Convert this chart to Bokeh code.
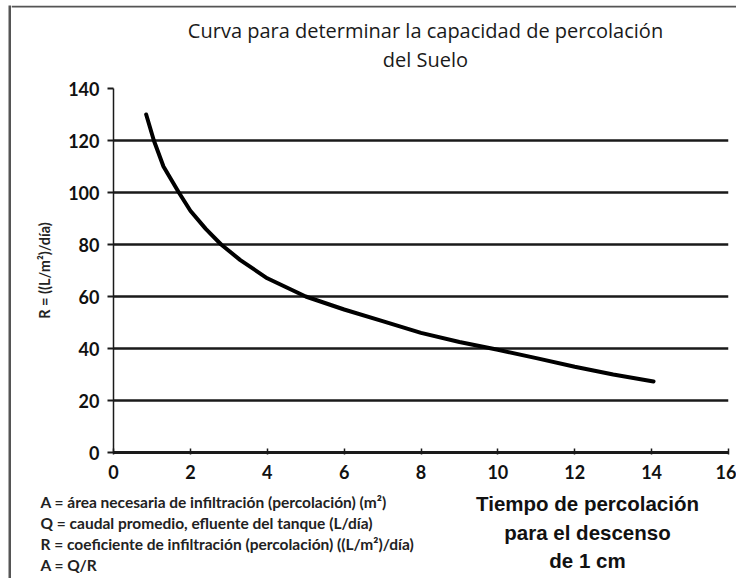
from bokeh.plotting import figure
from bokeh.models import Range1d, FixedTicker
from bokeh.layouts import column, row
from bokeh.core.properties import value
from bokeh.embed import file_html
from bokeh.resources import INLINE

# Data
tiempo = [0.85, 1.05, 1.3, 1.7, 2.0, 2.4, 2.8, 3.3, 4.0, 5.0, 6.0, 7.0, 8.0, 9.0, 10.0, 11.0, 12.0, 13.0, 14.05]
r_val = [130, 120, 110, 100, 93, 86, 80, 74, 67, 60, 55, 50.5, 46, 42.5, 39.5, 36.3, 33, 30, 27.3]
y_ticks = [0, 20, 40, 60, 80, 100, 120, 140]
grid_ticks = [20, 40, 60, 80, 100, 120]
x_ticks = [0, 2, 4, 6, 8, 10, 12, 14, 16]

title_lines = ["Curva para determinar la capacidad de percolación", "del Suelo"]
xlabel_lines = ["Tiempo de percolación", "para el descenso", "de 1 cm"]
ylabel = "R = ((L/m²)/día)"
notes = [
    "A = área necesaria de infiltración (percolación) (m²)",
    "Q = caudal promedio, efluente del tanque (L/día)",
    "R = coeficiente de infiltración (percolación) ((L/m²)/día)",
    "A = Q/R",
]

W = 725
OX, OY = 11, 5  # page offset of content
HT, HM, HB = 70, 417, 86


def blank_fig(w, h, fill="white"):
    f = figure(width=w, height=h, output_backend="svg", toolbar_location=None,
               x_range=Range1d(0, w), y_range=Range1d(h, 0),
               x_axis_type=None, y_axis_type=None, min_border=0,
               frame_align=False)
    f.outline_line_color = None
    f.grid.visible = False
    f.background_fill_color = fill
    f.border_fill_color = fill
    return f


# ---- left border strip of the picture frame
left_strip = blank_fig(3, HT + HM + HB, "#555555")

# ---- title figure (page y 5..75), with the top border line
top = blank_fig(W, HT)
top.quad(left=[0], right=[W], top=[0], bottom=[2], fill_color="#555555", line_color=None)
top.text(x=[425 - OX] * 2, y=[30 - OY, 59 - OY], text=title_lines,
         text_align="center", text_baseline="middle", text_font=value("Open Sans"),
         text_font_size="20px", text_color="#1a1a1a")

# ---- main figure (page y 75..492)
FL, FR, FT, FB = 113, 728, 88, 452
p = figure(width=W, height=HM, output_backend="svg", toolbar_location=None,
           x_range=Range1d(0, 16), y_range=Range1d(0, 140),
           min_border_left=FL - OX, min_border_right=W - (FR - OX),
           min_border_top=FT - 75, min_border_bottom=492 - FB)
p.outline_line_color = None
p.background_fill_color = "white"
p.border_fill_color = "white"

p.xgrid.grid_line_color = None
p.ygrid.ticker = FixedTicker(ticks=grid_ticks)
p.ygrid.grid_line_color = "#1a1a1a"
p.ygrid.grid_line_width = 2.5

p.yaxis.ticker = FixedTicker(ticks=y_ticks)
p.xaxis.ticker = FixedTicker(ticks=x_ticks)
for ax in (p.xaxis[0], p.yaxis[0]):
    ax.axis_line_color = "#1a1a1a"
    ax.major_tick_line_color = "#1a1a1a"
    ax.minor_tick_line_color = None
    ax.major_label_text_font = "Lato"
    ax.major_label_text_font_style = "bold"
    ax.major_label_text_font_size = "18px"
    ax.major_label_text_color = "#111111"
p.yaxis.axis_line_width = 1.5
p.yaxis.major_tick_line_width = 2
p.yaxis.major_tick_out = 6
p.yaxis.major_tick_in = 0
p.yaxis.major_label_standoff = 8
p.yaxis.axis_label = ylabel
p.yaxis.axis_label_text_font = "Lato"
p.yaxis.axis_label_text_font_style = "bold"
p.yaxis.axis_label_text_font_size = "14.5px"
p.yaxis.axis_label_text_color = "#222222"
p.yaxis.axis_label_standoff = 12
p.xaxis.axis_line_width = 3
p.xaxis.major_tick_line_width = 1.5
p.xaxis.major_tick_in = 4
p.xaxis.major_tick_out = 2
p.xaxis.major_label_standoff = 10

p.line(tiempo, r_val, line_color="black", line_width=4, line_cap="round")

# ---- bottom figure (page y 492..578)
bot = blank_fig(W, HB)
bot.text(x=[40 - OX] * 4, y=[y - 492 for y in (501, 522, 543, 564)], text=notes,
         text_align="left", text_baseline="middle", text_font=value("Lato"),
         text_font_size="15.5px", text_font_style="bold", text_color="#222222")
bot.text(x=[587 - OX] * 3, y=[y - 492 for y in (503, 532, 560)], text=xlabel_lines,
         text_align="center", text_baseline="middle", text_font=value("Liberation Sans"),
         text_font_size="20.5px", text_font_style="bold", text_color="#111111")

layout = row(left_strip, column(top, p, bot, spacing=0), spacing=0, margin=(5, 0, 0, 8))

open("out.html", "w").write(file_html(layout, INLINE))
